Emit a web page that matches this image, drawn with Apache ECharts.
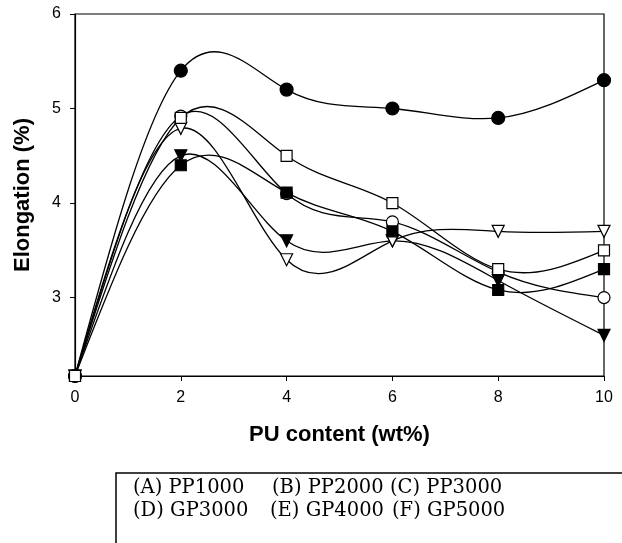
<!DOCTYPE html>
<html>
<head>
<meta charset="utf-8">
<script src="https://cdn.jsdelivr.net/npm/echarts@6/dist/echarts.min.js"></script>
<style>
html,body{margin:0;padding:0;background:#fff;}
#chart{width:622px;height:543px;}
</style>
</head>
<body>
<div id="chart"></div>
<script>
// ---- data ----
const xValues = [0, 2, 4, 6, 8, 10];
const seriesNames = ['(A) PP1000', '(B) PP2000', '(C) PP3000', '(D) GP3000', '(E) GP4000', '(F) GP5000'];
const valuesA = [2.17, 5.40, 5.20, 5.00, 4.90, 5.30];
const valuesB = [2.17, 4.92, 4.10, 3.80, 3.27, 3.00];
const valuesC = [2.17, 4.50, 3.60, 3.60, 3.18, 2.60];
const valuesD = [2.17, 4.79, 3.40, 3.60, 3.70, 3.70];
const valuesE = [2.17, 4.40, 4.11, 3.70, 3.08, 3.30];
const valuesF = [2.17, 4.90, 4.50, 4.00, 3.30, 3.50];
const yTickValues = [3, 4, 5, 6];

const styles = [
  {symbol: 'circle', fill: '#000', rotate: 0, size: 13},
  {symbol: 'circle', fill: '#fff', rotate: 0, size: 12},
  {symbol: 'triangle', fill: '#000', rotate: 180, size: 12},
  {symbol: 'triangle', fill: '#fff', rotate: 180, size: 12},
  {symbol: 'rect', fill: '#000', rotate: 0, size: 11},
  {symbol: 'rect', fill: '#fff', rotate: 0, size: 11}
];
const allValues = [valuesA, valuesB, valuesC, valuesD, valuesE, valuesF];

// natural cubic spline slopes (curve shape only; drawn through the data points)
function splineSlopes(xs, ys) {
  const n = xs.length - 1;
  const h = [];
  for (let i = 0; i < n; i++) h.push(xs[i + 1] - xs[i]);
  const M = new Array(n + 1).fill(0);
  if (n >= 2) {
    const a = [], b = [], c = [], d = [];
    for (let i = 1; i < n; i++) {
      a.push(h[i - 1]); b.push(2 * (h[i - 1] + h[i])); c.push(h[i]);
      d.push(6 * ((ys[i + 1] - ys[i]) / h[i] - (ys[i] - ys[i - 1]) / h[i - 1]));
    }
    const m = b.length;
    for (let i = 1; i < m; i++) {
      const w = a[i] / b[i - 1];
      b[i] -= w * c[i - 1]; d[i] -= w * d[i - 1];
    }
    const sol = new Array(m);
    sol[m - 1] = d[m - 1] / b[m - 1];
    for (let i = m - 2; i >= 0; i--) sol[i] = (d[i] - c[i] * sol[i + 1]) / b[i];
    for (let i = 1; i < n; i++) M[i] = sol[i - 1];
  }
  const s = [];
  for (let i = 0; i < n; i++) s.push((ys[i + 1] - ys[i]) / h[i] - h[i] * (2 * M[i] + M[i + 1]) / 6);
  s.push((ys[n] - ys[n - 1]) / h[n - 1] + h[n - 1] * (M[n - 1] + 2 * M[n]) / 6);
  return s;
}

const chart = echarts.init(document.getElementById('chart'));
const series = [];
allValues.forEach((vals, i) => {
  const slopes = splineSlopes(xValues, vals);
  series.push({
    name: seriesNames[i] + ' curve',
    type: 'custom',
    coordinateSystem: 'cartesian2d',
    clip: false,
    silent: true,
    z: 2,
    data: xValues.map((x, j) => [x, vals[j]]),
    renderItem: function (params, api) {
      if (params.dataIndex !== 0) return null;
      const pts = xValues.map((x, j) => api.coord([x, vals[j]]));
      let path = 'M' + pts[0][0] + ' ' + pts[0][1];
      for (let j = 0; j < xValues.length - 1; j++) {
        const h = xValues[j + 1] - xValues[j];
        const c1 = api.coord([xValues[j] + h / 3, vals[j] + slopes[j] * h / 3]);
        const c2 = api.coord([xValues[j + 1] - h / 3, vals[j + 1] - slopes[j + 1] * h / 3]);
        path += ' C' + c1[0] + ' ' + c1[1] + ' ' + c2[0] + ' ' + c2[1] + ' ' + pts[j + 1][0] + ' ' + pts[j + 1][1];
      }
      return {
        type: 'path',
        shape: {pathData: path},
        style: {fill: 'none', stroke: '#000', lineWidth: 1.3}
      };
    }
  });
  series.push({
    name: seriesNames[i],
    type: 'scatter',
    clip: false,
    data: xValues.map((x, j) => [x, vals[j]]),
    symbol: styles[i].symbol,
    symbolSize: styles[i].size,
    symbolRotate: styles[i].rotate,
    itemStyle: {color: styles[i].fill, borderColor: '#000', borderWidth: 1.2, opacity: 1},
    z: 3 + i
  });
});

chart.setOption({
  animation: false,
  backgroundColor: '#fff',
  grid: {left: 75, right: 18, top: 14, bottom: 167, show: true, borderColor: '#000', borderWidth: 1.2, backgroundColor: 'transparent'},
  xAxis: {
    type: 'value', min: 0, max: 10, interval: 2,
    name: 'PU content (wt%)', nameLocation: 'middle', nameGap: 48,
    nameTextStyle: {fontFamily: 'Liberation Sans', fontWeight: 'bold', fontSize: 22, color: '#000'},
    axisLine: {lineStyle: {color: '#000', width: 1.2}},
    axisTick: {show: true, length: 5, lineStyle: {color: '#000'}},
    axisLabel: {fontFamily: 'Liberation Sans', fontSize: 16, color: '#000', margin: 14},
    splitLine: {show: false}
  },
  yAxis: {
    type: 'value', min: 2.17, max: 6,
    name: 'Elongation (%)', nameLocation: 'middle', nameGap: 41, nameRotate: 90,
    nameTextStyle: {fontFamily: 'Liberation Sans', fontWeight: 'bold', fontSize: 22, color: '#000'},
    axisLine: {lineStyle: {color: '#000', width: 1.2}},
    axisTick: {show: true, length: 5, customValues: yTickValues, lineStyle: {color: '#000'}},
    axisLabel: {fontFamily: 'Liberation Sans', fontSize: 16, color: '#000', margin: 14, customValues: yTickValues},
    splitLine: {show: false}
  },
  graphic: [
    {type: 'rect', shape: {x: 116, y: 473, width: 600, height: 200}, style: {fill: 'none', stroke: '#000', lineWidth: 1.5}},
    {type: 'text', x: 133, y: 488, style: {text: seriesNames[0], font: '19.5px "DejaVu Serif"', fill: '#000', verticalAlign: 'middle'}},
    {type: 'text', x: 272, y: 488, style: {text: seriesNames[1], font: '19.5px "DejaVu Serif"', fill: '#000', verticalAlign: 'middle'}},
    {type: 'text', x: 390, y: 488, style: {text: seriesNames[2], font: '19.5px "DejaVu Serif"', fill: '#000', verticalAlign: 'middle'}},
    {type: 'text', x: 133, y: 511, style: {text: seriesNames[3], font: '19.5px "DejaVu Serif"', fill: '#000', verticalAlign: 'middle'}},
    {type: 'text', x: 270, y: 511, style: {text: seriesNames[4], font: '19.5px "DejaVu Serif"', fill: '#000', verticalAlign: 'middle'}},
    {type: 'text', x: 392, y: 511, style: {text: seriesNames[5], font: '19.5px "DejaVu Serif"', fill: '#000', verticalAlign: 'middle'}}
  ],
  series: series
});
</script>
</body>
</html>
